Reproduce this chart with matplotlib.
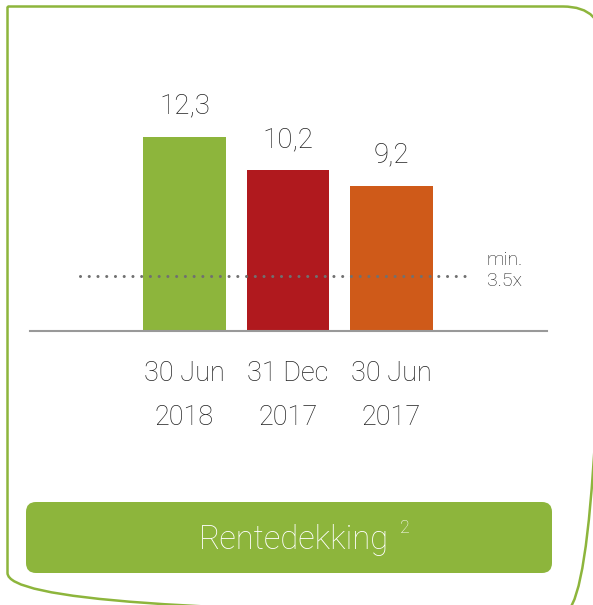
import matplotlib.pyplot as plt
from matplotlib.path import Path
from matplotlib.patches import PathPatch, FancyBboxPatch

# data
categories = ["30 Jun\n2018", "31 Dec\n2017", "30 Jun\n2017"]
values = [12.3, 10.2, 9.2]
value_labels = ["12,3", "10,2", "9,2"]
bar_colors = ["#8db53c", "#b0191e", "#cf5a19"]
min_level = 3.5
title = "Rentedekking"

W, H = 593, 605
plt.rcParams["font.family"] = ["Roboto", "DejaVu Sans"]
text_col = "#222222"

fig = plt.figure(figsize=(W / 100, H / 100), dpi=100)

# overlay in pixel coordinates for the frame and title box
bg = fig.add_axes([0, 0, 1, 1])
bg.set_xlim(0, W)
bg.set_ylim(H, 0)
bg.axis("off")

r = 40
x0, y0, x1, y1 = 7.5, 6.5, 603, 613
verts = [(x0, y0), (x1 - r, y0), (x1, y0), (x1, y0 + r),
         (x1, y1 - r), (x1, y1), (x1 - r, y1),
         (x0 + r, y1), (x0, y1), (x0, y1 - r), (x0, y0)]
codes = [Path.MOVETO, Path.LINETO, Path.CURVE3, Path.CURVE3,
         Path.LINETO, Path.CURVE3, Path.CURVE3,
         Path.LINETO, Path.CURVE3, Path.CURVE3, Path.LINETO]
bg.add_patch(PathPatch(Path(verts, codes), fill=False, edgecolor="#8db53c", lw=1.8))

bg.add_patch(FancyBboxPatch((26 + 10, 502 + 10), 526 - 20, 71 - 20,
                            boxstyle="round,pad=10", facecolor="#8db53c",
                            edgecolor="none"))
bg.text(294, 540, title, color="white", fontsize=23.5, fontweight="light",
        ha="center", va="center")
bg.text(400, 528, "2", color="white", fontsize=13, fontweight="light",
        ha="left", va="center")

# chart axes
ax = fig.add_axes([30 / W, (H - 331) / H, 517 / W, 271 / H])
x = list(range(len(values)))
ax.bar(x, values, width=0.8, color=bar_colors, zorder=2)
for xi, v, lab in zip(x, values, value_labels):
    ax.text(xi, v + 1.95, lab, ha="center", va="center", fontsize=20,
            fontweight="light", color=text_col)

ax.plot([-1.01, 2.73], [min_level, min_level], color="#707070", lw=2.2,
        linestyle=(0, (0.01, 2.85)), dash_capstyle="round", zorder=3)
ax.text(2.92, min_level + 0.35, "min.\n3.5x", ha="left", va="center",
        fontsize=14, fontweight="light", color=text_col, linespacing=1.2)

ax.set_xlim(-1.493, 3.502)
ax.set_ylim(0, 271 / 15.77)
ax.set_xticks(x)
ax.set_xticklabels(categories, fontsize=19.5, fontweight="light",
                   color=text_col, linespacing=1.8)
ax.tick_params(axis="x", length=0, pad=21)
ax.set_yticks([])
for s in ["top", "left", "right"]:
    ax.spines[s].set_visible(False)
ax.spines["bottom"].set_color("#999999")
ax.spines["bottom"].set_linewidth(1.5)
ax.patch.set_alpha(0)

fig.savefig("out.png", dpi=100)
